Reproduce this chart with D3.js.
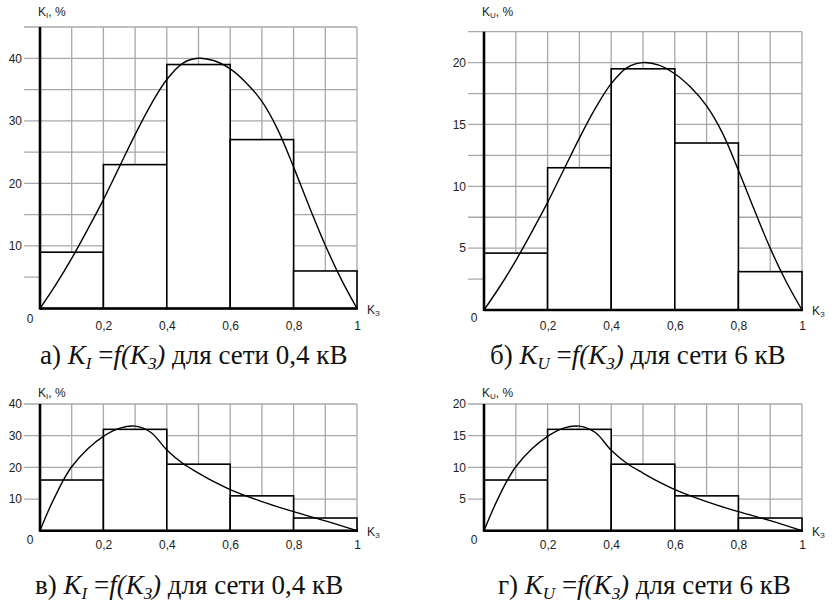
<!DOCTYPE html>
<html><head><meta charset="utf-8">
<script src="https://cdn.jsdelivr.net/npm/d3@7"></script>
<style>body{margin:0;background:#fff}svg{display:block}</style></head>
<body>
<svg id="c" width="834" height="602"></svg>
<script>
// ---- data ----
const binEdges = [0, 0.2, 0.4, 0.6, 0.8, 1];
const xTickValues = [0.2, 0.4, 0.6, 0.8, 1];
const xTickLabels = ["0,2", "0,4", "0,6", "0,8", "1"];
const gridX = [0.1, 0.2, 0.3, 0.4, 0.5, 0.6, 0.7, 0.8, 0.9, 1];

// а) K_I, 0.4 kV
const barsA = [9, 23, 39, 27, 6];
const curveXA = [0, 0.05, 0.1, 0.15, 0.2, 0.25, 0.3, 0.35, 0.4, 0.45, 0.5, 0.55, 0.6, 0.65, 0.7, 0.75, 0.8, 0.85, 0.9, 0.95, 1];
const curveYA = [0, 3.8, 8, 12.6, 17.4, 22.6, 27.8, 32.6, 36.6, 39.2, 40, 39.6, 38.3, 36.1, 33.1, 28.6, 22.6, 16.2, 10.1, 4.7, 0];
const yTicksA = [10, 20, 30, 40];
const yGridA = [5, 10, 15, 20, 25, 30, 35, 40, 45];

// б) K_U, 6 kV
const barsB = [4.6, 11.5, 19.5, 13.5, 3.1];
const curveXB = [0, 0.05, 0.1, 0.15, 0.2, 0.25, 0.3, 0.35, 0.4, 0.45, 0.5, 0.55, 0.6, 0.65, 0.7, 0.75, 0.8, 0.85, 0.9, 0.95, 1];
const curveYB = [0, 1.9, 4, 6.3, 8.7, 11.3, 13.9, 16.3, 18.3, 19.6, 20, 19.8, 19.1, 18, 16.5, 14.3, 11.3, 8.1, 5, 2.3, 0];
const yTicksB = [5, 10, 15, 20];
const yGridB = [2.5, 5, 7.5, 10, 12.5, 15, 17.5, 20, 22.5];

// в) K_I, 0.4 kV
const barsC = [16, 32, 21, 11, 4];
const curveXC = [0, 0.025, 0.05, 0.075, 0.1, 0.15, 0.2, 0.25, 0.3, 0.35, 0.4, 0.45, 0.5, 0.55, 0.6, 0.7, 0.8, 0.9, 1];
const curveYC = [0, 6, 11.3, 16.2, 20.2, 25.8, 29.8, 32.3, 33, 31, 25.5, 21.3, 18.2, 15.4, 13, 9.2, 6, 3.1, 0];
const yTicksC = [10, 20, 30, 40];
const yGridC = [10, 20, 30, 40];

// г) K_U, 6 kV
const barsD = [8, 16, 10.5, 5.5, 2];
const curveXD = [0, 0.025, 0.05, 0.075, 0.1, 0.15, 0.2, 0.25, 0.3, 0.35, 0.4, 0.45, 0.5, 0.55, 0.6, 0.7, 0.8, 0.9, 1];
const curveYD = [0, 3, 5.7, 8.1, 10.1, 12.9, 14.9, 16.2, 16.5, 15.5, 12.7, 10.6, 9.1, 7.7, 6.5, 4.6, 3, 1.6, 0];
const yTicksD = [5, 10, 15, 20];
const yGridD = [5, 10, 15, 20];

// ---- drawing ----
const svg = d3.select("#c");
const sans = "'Liberation Sans', Arial, sans-serif";
const serif = "'Liberation Serif', 'Times New Roman', serif";

function panel(o) {
  const g = svg.append("g");
  const x = d3.scaleLinear().domain([0, 1]).range([o.left, o.right]);
  const y = d3.scaleLinear().domain([0, o.yMax]).range([o.base, o.top]);

  // grid
  g.append("g").selectAll("line").data(o.yGrid).join("line")
    .attr("x1", o.left - 16).attr("x2", o.right)
    .attr("y1", d => y(d)).attr("y2", d => y(d))
    .attr("stroke", "#a8a8a8").attr("stroke-width", 1.3);
  g.append("g").selectAll("line").data(gridX).join("line")
    .attr("x1", d => x(d)).attr("x2", d => x(d))
    .attr("y1", o.top).attr("y2", o.base)
    .attr("stroke", "#a8a8a8").attr("stroke-width", 1.3);

  // bars
  g.append("g").selectAll("rect").data(o.bars).join("rect")
    .attr("x", (d, i) => x(binEdges[i]))
    .attr("width", (d, i) => x(binEdges[i + 1]) - x(binEdges[i]))
    .attr("y", d => y(d)).attr("height", d => o.base - y(d))
    .attr("fill", "#fff").attr("stroke", "#000").attr("stroke-width", 1.6);

  // curve
  const pts = o.cx.map((v, i) => [v, o.cy[i]]);
  g.append("path").datum(pts)
    .attr("d", d3.line().x(d => x(d[0])).y(d => y(d[1])).curve(d3.curveCatmullRom.alpha(0.5)))
    .attr("fill", "none").attr("stroke", "#000").attr("stroke-width", 1.4);

  // axes lines
  g.append("line").attr("x1", o.left).attr("x2", o.left).attr("y1", o.top).attr("y2", o.base + 1)
    .attr("stroke", "#000").attr("stroke-width", 2.6);
  g.append("line").attr("x1", o.left).attr("x2", o.right + 1).attr("y1", o.base).attr("y2", o.base)
    .attr("stroke", "#000").attr("stroke-width", 2.6);

  // y tick labels
  const ya = g.append("g").attr("transform", `translate(${o.left},0)`)
    .call(d3.axisLeft(y).tickValues(o.yTicks).tickSize(0).tickPadding(18).tickFormat(d3.format("d")));
  ya.select(".domain").remove();
  ya.selectAll("text").attr("font-family", sans).attr("font-size", 12).attr("fill", "#222");

  // x tick labels
  const xa = g.append("g").attr("transform", `translate(0,${o.base})`)
    .call(d3.axisBottom(x).tickValues(xTickValues).tickSize(0).tickPadding(o.xPad)
      .tickFormat((d, i) => xTickLabels[i]));
  xa.select(".domain").remove();
  xa.selectAll("text").attr("font-family", sans).attr("font-size", 12).attr("fill", "#222");

  // zero label
  g.append("text").attr("x", o.left - 10).attr("y", o.base + o.zeroDy)
    .attr("text-anchor", "middle").attr("font-family", sans).attr("font-size", 12).attr("fill", "#222").text("0");

  // x axis name
  const kx = g.append("text").attr("x", o.right + 10).attr("y", o.base + 5)
    .attr("font-family", sans).attr("font-size", 12).attr("fill", "#222");
  kx.append("tspan").text("K");
  kx.append("tspan").attr("font-size", 8).attr("dy", 2).text("З");

  // y axis name
  const ky = g.append("text").attr("x", o.left - 2).attr("y", o.yNameY)
    .attr("font-family", sans).attr("font-size", 12).attr("fill", "#222");
  ky.append("tspan").text("K");
  ky.append("tspan").attr("font-size", 8).attr("dy", 2).text(o.sub);
  ky.append("tspan").attr("dy", -2).text(", %");

  // caption
  const cap = g.append("text").attr("x", o.capX).attr("y", o.capY)
    .attr("font-family", serif).attr("font-size", 27).attr("fill", "#111");
  cap.append("tspan").text(o.letter + ") ");
  cap.append("tspan").attr("font-style", "italic").text("K");
  cap.append("tspan").attr("font-style", "italic").attr("font-size", 17).attr("dy", 5).text(o.sub);
  cap.append("tspan").attr("dy", -5).text(" =");
  cap.append("tspan").attr("font-style", "italic").text("f(K");
  cap.append("tspan").attr("font-style", "italic").attr("font-size", 17).attr("dy", 5).text("З");
  cap.append("tspan").attr("font-style", "italic").attr("dy", -5).text(")");
  cap.append("tspan").text(" для сети " + o.net);
}

panel({left: 40, right: 357, top: 27, base: 308.5, yMax: 45, yGrid: yGridA, yTicks: yTicksA,
  bars: barsA, cx: curveXA, cy: curveYA, xPad: 12.5, zeroDy: 14, yNameY: 16, sub: "I",
  letter: "а", net: "0,4 кВ", capX: 40, capY: 364});
panel({left: 484, right: 802, top: 31.7, base: 310, yMax: 22.5, yGrid: yGridB, yTicks: yTicksB,
  bars: barsB, cx: curveXB, cy: curveYB, xPad: 11, zeroDy: 12, yNameY: 16, sub: "U",
  letter: "б", net: "6 кВ", capX: 490, capY: 364});
panel({left: 40, right: 357, top: 404, base: 530.7, yMax: 40, yGrid: yGridC, yTicks: yTicksC,
  bars: barsC, cx: curveXC, cy: curveYC, xPad: 10, zeroDy: 13, yNameY: 397, sub: "I",
  letter: "в", net: "0,4 кВ", capX: 35, capY: 594});
panel({left: 484, right: 802, top: 404, base: 530.7, yMax: 20, yGrid: yGridD, yTicks: yTicksD,
  bars: barsD, cx: curveXD, cy: curveYD, xPad: 10, zeroDy: 13, yNameY: 397, sub: "U",
  letter: "г", net: "6 кВ", capX: 498, capY: 594});
</script>
</body></html>
